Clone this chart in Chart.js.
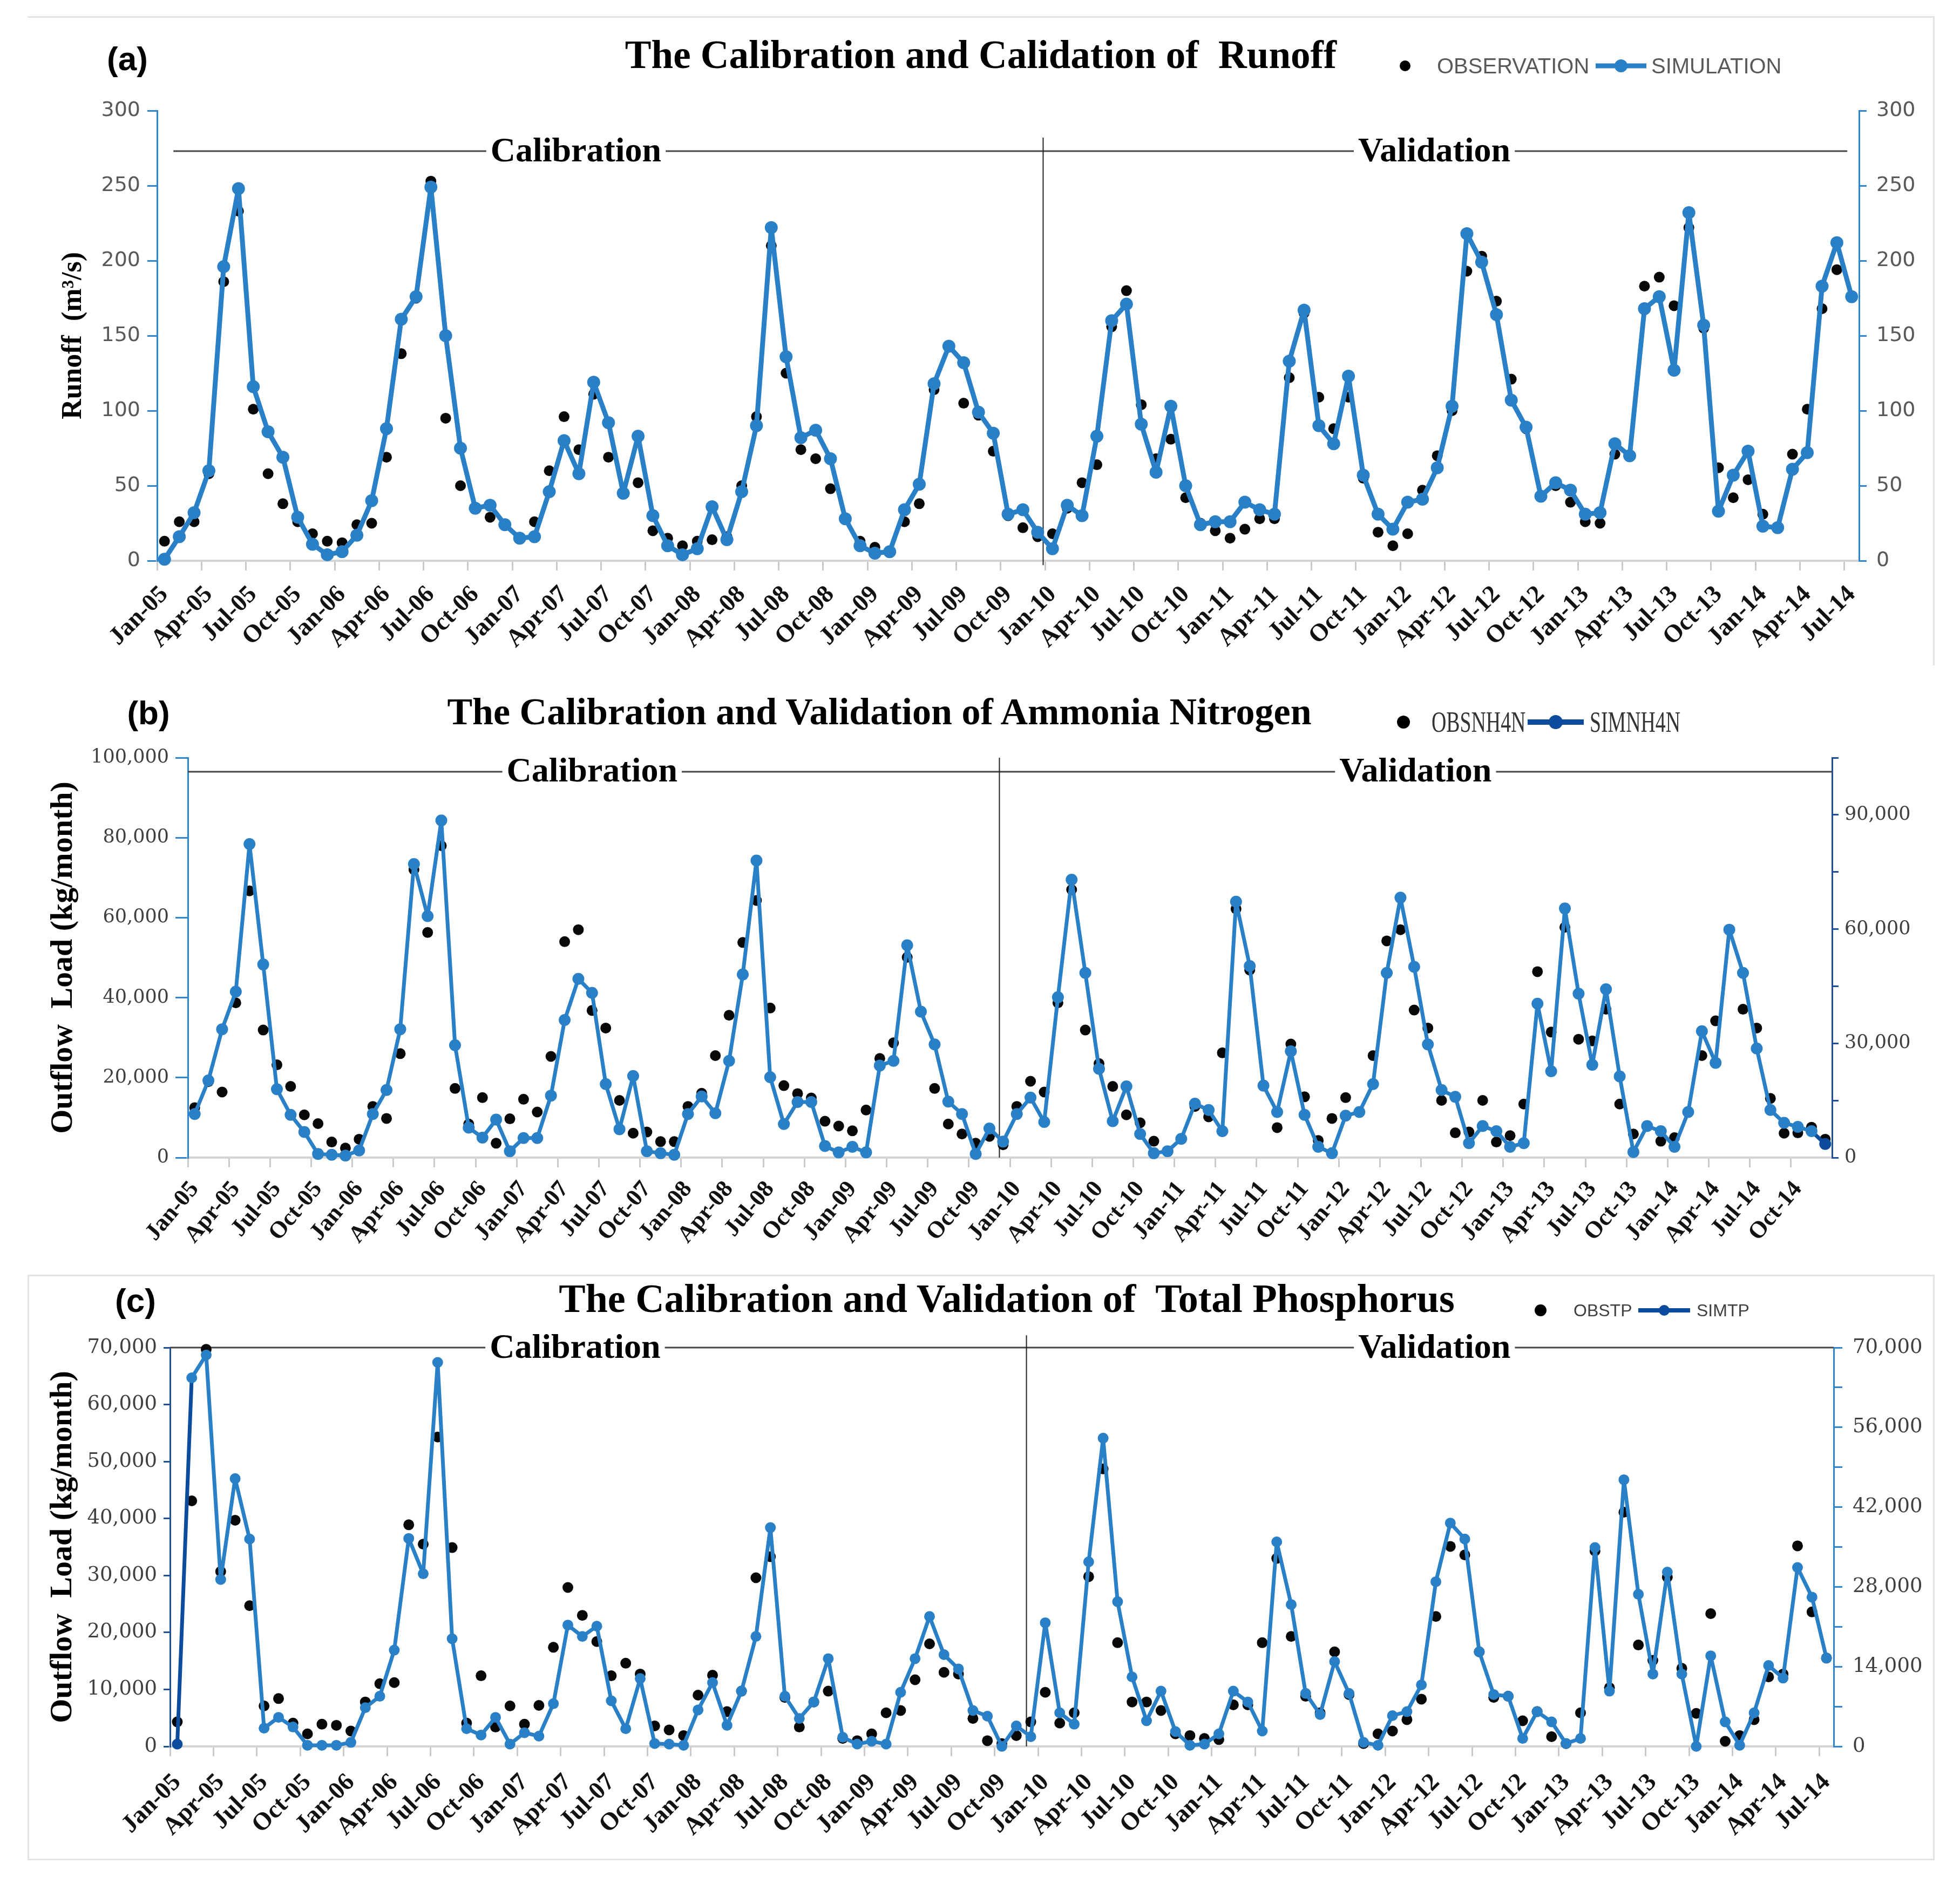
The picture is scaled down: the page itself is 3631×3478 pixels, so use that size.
<!DOCTYPE html>
<html>
<head>
<meta charset="utf-8">
<title>Calibration and Validation</title>
<script src="https://cdn.jsdelivr.net/npm/chart.js@4.4.1/dist/chart.umd.min.js"></script>
<style>
  html, body { margin: 0; padding: 0; background: #fff; }
  #page { position: relative; width: 3631px; height: 3478px; overflow: hidden; background: #fff; }
  #page canvas { position: absolute; left: 0; }
  .frame { position: absolute; border: 0 solid #e2e2e2; }
  .title { position: absolute; transform: translate(-50%, -50%); font-family: "Liberation Serif", serif; font-weight: bold; line-height: 1; white-space: pre; color: #000; }
  .tag { position: absolute; transform: translate(-50%, -50%); font-family: "Liberation Sans", sans-serif; font-weight: bold; font-size: 62px; line-height: 1; color: #000; }
  .lg-text { position: absolute; transform: translateY(-50%); transform-origin: left center; line-height: 1; white-space: nowrap; }
  .lg-dot { position: absolute; border-radius: 50%; transform: translate(-50%, -50%); }
  .lg-line { position: absolute; transform: translateY(-50%); }
</style>
</head>
<body>
<div id="page">
  <div class="frame" style="left:51px;top:30px;width:3530px;height:1200px;border-top-width:3px;border-right-width:3px;"></div>
  <div class="frame" style="left:51px;top:2362px;width:3527px;height:1079px;border-width:3px;"></div>

  <canvas id="runoffChart" width="3631" height="1230" style="top:0px;width:3631px;height:1230px;"></canvas>
  <canvas id="nh4Chart" width="3631" height="1110" style="top:1230px;width:3631px;height:1110px;"></canvas>
  <canvas id="tpChart" width="3631" height="1138" style="top:2340px;width:3631px;height:1138px;"></canvas>

  <div class="tag" style="left:236px;top:109px;">(a)</div>
  <div class="tag" style="left:275px;top:1321px;">(b)</div>
  <div class="tag" style="left:251px;top:2410px;">(c)</div>

  <div class="title" style="left:1817px;top:101px;font-size:73px;">The Calibration and Calidation of  Runoff</div>
  <div class="title" style="left:1629px;top:1319px;font-size:70px;">The Calibration and Validation of Ammonia Nitrogen</div>
  <div class="title" style="left:1865px;top:2406px;font-size:74px;">The Calibration and Validation of  Total Phosphorus</div>

  <!-- legend (a) -->
  <div class="lg-dot" style="left:2603px;top:122px;width:20px;height:20px;background:#000;"></div>
  <div class="lg-text" style="left:2662px;top:122px;font-family:'Liberation Sans',sans-serif;font-size:40px;color:#595959;">OBSERVATION</div>
  <div class="lg-line" style="left:2956px;top:122px;width:94px;height:9px;background:#2A80C6;"></div>
  <div class="lg-dot" style="left:3003px;top:122px;width:24px;height:24px;background:#2A80C6;"></div>
  <div class="lg-text" style="left:3059px;top:122px;font-family:'Liberation Sans',sans-serif;font-size:40px;color:#595959;">SIMULATION</div>

  <!-- legend (b) -->
  <div class="lg-dot" style="left:2600px;top:1338px;width:24px;height:24px;background:#000;"></div>
  <div class="lg-text" style="left:2652px;top:1338px;font-family:'Liberation Serif',serif;font-size:54px;color:#333;transform:translateY(-50%) scaleX(0.7);">OBSNH4N</div>
  <div class="lg-line" style="left:2830px;top:1338px;width:104px;height:10px;background:#0D4C9C;"></div>
  <div class="lg-dot" style="left:2882px;top:1338px;width:26px;height:26px;background:#0D4C9C;"></div>
  <div class="lg-text" style="left:2945px;top:1338px;font-family:'Liberation Serif',serif;font-size:54px;color:#333;transform:translateY(-50%) scaleX(0.7);">SIMNH4N</div>

  <!-- legend (c) -->
  <div class="lg-dot" style="left:2854px;top:2428px;width:22px;height:22px;background:#000;"></div>
  <div class="lg-text" style="left:2915px;top:2428px;font-family:'Liberation Sans',sans-serif;font-size:32px;color:#404040;">OBSTP</div>
  <div class="lg-line" style="left:3035px;top:2428px;width:96px;height:8px;background:#0D4C9C;"></div>
  <div class="lg-dot" style="left:3083px;top:2428px;width:20px;height:20px;background:#0D4C9C;"></div>
  <div class="lg-text" style="left:3143px;top:2428px;font-family:'Liberation Sans',sans-serif;font-size:32px;color:#404040;">SIMTP</div>
</div>

<script>
const BLUE = '#2A80C6';
const AXIS_BLUE = '#2E86D0';
const DARK_BLUE = '#0D4C9C';

// month categories Jan-05 .. Dec-14
const monthNames = ['Jan', 'Feb', 'Mar', 'Apr', 'May', 'Jun', 'Jul', 'Aug', 'Sep', 'Oct', 'Nov', 'Dec'];
const years = ['05', '06', '07', '08', '09', '10', '11', '12', '13', '14'];
const months = [];
years.forEach(y => monthNames.forEach(m => months.push(m + '-' + y)));

const runoffMonths = months.slice(0, 115);   // Jan-05 .. Jul-14
const nh4Months = months.slice(0, 120);      // Jan-05 .. Dec-14
const tpMonths = months.slice(0, 115);       // Jan-05 .. Jul-14

// (a) runoff, m3/s
const runoffObs = [
    13, 26, 26, 58, 186, 233, 101, 58, 38, 26, 18, 13,
    12, 24, 25, 69, 138, 175, 253, 95, 50, 35, 29, 24,
    15, 26, 60, 96, 74, 111, 69, 45, 52, 20, 15, 10,
    13, 14, 16, 50, 96, 210, 125, 74, 68, 48, 28, 13,
    9, 6, 26, 38, 114, 143, 105, 97, 73, 30, 22, 16,
    18, 35, 52, 64, 156, 180, 104, 68, 81, 42, 25, 20,
    15, 21, 28, 28, 122, 165, 109, 88, 109, 55, 19, 10,
    18, 47, 70, 100, 193, 203, 173, 121, 88, 43, 50, 39,
    26, 25, 71, 70, 183, 189, 170, 222, 155, 62, 42, 54,
    31, 22, 71, 101, 168, 194, 176
];
const runoffSim = [
    1, 16, 32, 60, 196, 248, 116, 86, 69, 29, 11, 4,
    6, 17, 40, 88, 161, 176, 249, 150, 75, 35, 37, 24,
    15, 16, 46, 80, 58, 119, 92, 45, 83, 30, 10, 4,
    8, 36, 14, 46, 90, 222, 136, 82, 87, 68, 28, 10,
    5, 6, 34, 51, 118, 143, 132, 99, 85, 31, 34, 19,
    8, 37, 30, 83, 160, 171, 91, 59, 103, 50, 24, 26,
    26, 39, 34, 31, 133, 167, 90, 78, 123, 57, 31, 21,
    39, 41, 62, 103, 218, 199, 164, 107, 89, 43, 52, 47,
    31, 32, 78, 70, 168, 176, 127, 232, 157, 33, 57, 73,
    23, 22, 61, 72, 183, 212, 176
];

// (b) ammonia nitrogen, kg/month
const nh4Obs = [
    12500, 19000, 16400, 38700, 66700, 31900, 23200, 17800, 10700, 8500, 3900, 2400,
    4600, 12800, 9800, 26000, 72000, 56300, 78000, 17300, 8400, 15000, 3600, 9700,
    14600, 11400, 25300, 54000, 57000, 36800, 32400, 14300, 6100, 6400, 4000, 4000,
    12800, 16100, 25500, 35600, 53800, 64300, 37400, 18000, 16000, 14900, 9100, 7900,
    6700, 11900, 24800, 28700, 50100, 36500, 17300, 8400, 5900, 3600, 5300, 3200,
    12800, 19100, 16400, 38700, 67000, 31900, 23500, 17800, 10700, 8700, 4100, 1600,
    4700, 12800, 10200, 26200, 62200, 46900, 18000, 7500, 28400, 15200, 4300, 9800,
    15000, 11400, 25500, 54200, 57000, 36900, 32400, 14300, 6200, 6400, 14300, 3900,
    5500, 13400, 46500, 31400, 57600, 29600, 29200, 37100, 13400, 5900, 7900, 4100,
    5000, 11400, 25500, 34200, 57000, 37100, 32400, 14800, 6100, 6200, 7600, 4600
];
const nh4Sim = [
    10900, 19300, 32100, 41500, 78400, 48300, 17100, 10700, 6400, 900, 700, 500,
    1800, 10900, 16900, 32100, 73400, 60400, 84300, 28100, 7500, 5000, 9500, 1600,
    4900, 4900, 15500, 34400, 44700, 41200, 18400, 7100, 20400, 1600, 1100, 700,
    10900, 15300, 11100, 24200, 45800, 74300, 20100, 8400, 13900, 13900, 2900, 1300,
    2700, 1300, 23000, 24200, 53100, 36500, 28300, 14000, 10900, 900, 7300, 4000,
    10900, 15000, 8900, 40100, 69500, 46200, 22200, 9100, 17800, 5900, 1100, 1600,
    4700, 13500, 11900, 6600, 64000, 47900, 18000, 11400, 26600, 10700, 2700, 1100,
    10500, 11400, 18400, 46200, 65000, 47700, 28300, 16900, 15200, 3600, 7900, 6600,
    2700, 3600, 38500, 21600, 62300, 41000, 23200, 42100, 20300, 1400, 7900, 6600,
    2700, 11400, 31600, 23700, 57000, 46200, 27300, 11900, 8700, 7700, 6600, 3400
];

// (c) total phosphorus, kg/month
const tpObs = [
    4300, 43100, 69700, 30700, 39700, 24700, 7100, 8400, 4100, 2200, 3900, 3700,
    2700, 7800, 11000, 11200, 38900, 35500, 54300, 34900, 4100, 12400, 3400, 7100,
    3900, 7200, 17400, 27900, 23000, 18400, 12400, 14600, 12700, 3600, 2900, 1900,
    9000, 12500, 6100, 9700, 29600, 33300, 8600, 3400, 7800, 9700, 1400, 1000,
    2200, 5900, 6300, 11700, 18000, 13000, 12700, 4900, 1000, 500, 1900, 4300,
    9500, 4100, 5900, 29800, 48700, 18200, 7800, 7800, 6300, 2200, 1900, 1400,
    1200, 7300, 7300, 18200, 33000, 19300, 8800, 5900, 16600, 9100, 500, 2200,
    2700, 4700, 8300, 22800, 35100, 33600, 16600, 8600, 8800, 4500, 6100, 1700,
    500, 5900, 34300, 10300, 41100, 17800, 15100, 29700, 13700, 5800, 23300, 900,
    1900, 4700, 12200, 12700, 35200, 23600, 15500
];
const tpSim = [
    400, 64700, 68700, 29300, 47000, 36400, 3200, 5100, 3400, 200, 200, 200,
    700, 6800, 8800, 16900, 36500, 30300, 67400, 18900, 3100, 2000, 5100, 400,
    2400, 1800, 7500, 21300, 19300, 21100, 8000, 3100, 11900, 500, 400, 200,
    6400, 11200, 3700, 9700, 19300, 38400, 8800, 4900, 7800, 15400, 1600, 400,
    900, 400, 9500, 15400, 22800, 16100, 13600, 6300, 5300, 0, 3600, 1700,
    21700, 5900, 3900, 32400, 54100, 25400, 12200, 4500, 9700, 2600, 200, 400,
    2200, 9700, 7800, 2700, 35900, 24900, 9300, 5600, 14900, 9300, 700, 200,
    5400, 6100, 10800, 28900, 39200, 36400, 16600, 9100, 8800, 1400, 6100, 4300,
    500, 1400, 34900, 9700, 46800, 26700, 12700, 30600, 12700, 0, 15900, 4300,
    200, 5900, 14200, 12000, 31400, 26200, 15500
];

// draws the Calibration / Validation split line and the labelled top line
const dividerPlugin = {
    id: 'divider',
    beforeDatasetsDraw(chart, args, opts) {
        const ctx = chart.ctx;
        const x = chart.scales.x;
        const y = chart.scales.y;
        const yLine = y.getPixelForValue(opts.lineValue);

        ctx.save();
        ctx.strokeStyle = '#444';
        ctx.lineWidth = 3;
        ctx.beginPath();
        ctx.moveTo(x.getPixelForValue(opts.lineFrom), yLine);
        ctx.lineTo(x.getPixelForValue(opts.lineTo), yLine);
        ctx.stroke();

        const xs = x.getPixelForValue(opts.splitAt);
        ctx.strokeStyle = '#222';
        ctx.lineWidth = 2;
        ctx.beginPath();
        ctx.moveTo(xs, y.getPixelForValue(opts.splitTop));
        ctx.lineTo(xs, y.getPixelForValue(opts.splitBottom));
        ctx.stroke();

        ctx.font = opts.font;
        ctx.textAlign = 'center';
        ctx.textBaseline = 'middle';
        opts.labels.forEach(l => {
            const px = x.getPixelForValue(l.at);
            const w = ctx.measureText(l.text).width;
            ctx.fillStyle = '#fff';
            ctx.fillRect(px - w / 2 - 8, yLine - 32, w + 16, 64);
            ctx.fillStyle = '#000';
            ctx.fillText(l.text, px, yLine + 2);
        });
        ctx.restore();
    }
};

function buildPanel(canvasId, p) {
    const ctx = document.getElementById(canvasId).getContext('2d');
    const serif = '"Liberation Serif", "Times New Roman", serif';

    return new Chart(ctx, {
        type: 'line',
        data: {
            labels: p.labels,
            datasets: [
                {
                    label: p.simName,
                    data: p.sim,
                    order: 1,
                    clip: false,
                    borderColor: BLUE,
                    borderWidth: p.lineWidth,
                    borderJoinStyle: 'round',
                    borderCapStyle: 'round',
                    tension: 0,
                    pointRadius: p.simRadius,
                    pointBorderWidth: 0,
                    pointBackgroundColor: c => (c.dataIndex === p.darkIndex ? DARK_BLUE : BLUE),
                    segment: {
                        borderColor: c => (p.darkSegment.includes(c.p1DataIndex) && p.darkSegment.includes(c.p0DataIndex) ? DARK_BLUE : undefined)
                    }
                },
                {
                    label: p.obsName,
                    data: p.obs,
                    order: 2,
                    clip: false,
                    showLine: false,
                    pointRadius: 10,
                    pointBorderWidth: 0,
                    pointBackgroundColor: '#080808'
                }
            ]
        },
        options: {
            responsive: false,
            animation: false,
            devicePixelRatio: 1,
            layout: { padding: { top: p.top, left: 0, right: 0, bottom: 0 } },
            plugins: {
                legend: { display: false },
                tooltip: { enabled: false },
                divider: p.divider
            },
            scales: {
                x: {
                    type: 'category',
                    offset: true,
                    grid: {
                        offset: true,
                        drawOnChartArea: false,
                        tickLength: 18,
                        lineWidth: 3,
                        color: c => (c.index % 3 === 0 ? '#c9c9c9' : 'rgba(0,0,0,0)')
                    },
                    border: { color: '#d4d4d4', width: 4 },
                    ticks: {
                        autoSkip: false,
                        minRotation: p.rotation,
                        maxRotation: p.rotation,
                        padding: p.xPad,
                        color: '#111',
                        font: { family: serif, size: p.xFont, weight: 'bold' },
                        callback: function(v, i) {
                            return i % 3 === 0 ? this.getLabelForValue(v) : '';
                        }
                    },
                    afterFit: s => { s.height = p.xHeight; }
                },
                y: {
                    position: 'left',
                    min: 0,
                    max: p.yMax,
                    grid: { drawOnChartArea: false, tickLength: p.yTick, lineWidth: 3, color: p.leftColor },
                    border: { color: p.leftColor, width: 3 },
                    ticks: {
                        stepSize: p.yStep,
                        padding: p.yPad,
                        color: p.tickColor,
                        font: p.tickFont,
                        callback: v => v.toLocaleString('en-US')
                    },
                    title: {
                        display: true,
                        text: p.yTitle,
                        color: '#000',
                        font: { family: serif, size: p.yTitleSize, weight: 'bold' },
                        padding: { top: p.yTitlePad, bottom: 0 }
                    },
                    afterFit: s => { s.width = p.leftWidth; }
                },
                y2: {
                    position: 'right',
                    min: 0,
                    max: p.y2Max,
                    grid: { drawOnChartArea: false, tickLength: p.y2Tick, lineWidth: 3, color: p.rightColor },
                    border: { color: p.rightColor, width: 3 },
                    ticks: {
                        stepSize: p.y2Step,
                        padding: p.y2Pad,
                        color: p.tickColor,
                        font: p.tickFont,
                        callback: v => (v % p.y2Label === 0 ? v.toLocaleString('en-US') : '')
                    },
                    afterFit: s => { s.width = p.rightWidth; }
                }
            }
        },
        plugins: [dividerPlugin]
    });
}

buildPanel('runoffChart', {
    labels: runoffMonths, obs: runoffObs, sim: runoffSim,
    obsName: 'OBSERVATION', simName: 'SIMULATION',
    lineWidth: 9, simRadius: 12, darkIndex: -1, darkSegment: [],
    top: 205, xHeight: 191, leftWidth: 291, rightWidth: 187,
    rotation: 45, xFont: 46, xPad: 18,
    yMax: 300, yStep: 50, yTick: 18, yPad: 13,
    y2Max: 300, y2Step: 50, y2Label: 50, y2Tick: 14, y2Pad: 18,
    leftColor: AXIS_BLUE, rightColor: AXIS_BLUE,
    tickColor: '#595959', tickFont: { family: '"DejaVu Sans", sans-serif', size: 38 },
    yTitle: 'Runoff  (m\u00b3/s)', yTitleSize: 52, yTitlePad: 105,
    divider: {
        lineValue: 273, lineFrom: 0.6, lineTo: 113.7,
        splitAt: 59.37, splitTop: 282, splitBottom: -3,
        font: 'bold 64px "Liberation Serif", serif',
        labels: [{ text: 'Calibration', at: 27.8 }, { text: 'Validation', at: 85.8 }]
    }
});

buildPanel('nh4Chart', {
    labels: nh4Months, obs: nh4Obs, sim: nh4Sim,
    obsName: 'OBSNH4N', simName: 'SIMNH4N',
    lineWidth: 7, simRadius: 11, darkIndex: 119, darkSegment: [118, 119],
    top: 174, xHeight: 195, leftWidth: 348, rightWidth: 237,
    rotation: 50, xFont: 44, xPad: 16,
    yMax: 100000, yStep: 20000, yTick: 23, yPad: 12,
    y2Max: 105000, y2Step: 15000, y2Label: 30000, y2Tick: 12, y2Pad: 11,
    leftColor: AXIS_BLUE, rightColor: '#1F4E9A',
    tickColor: '#404040', tickFont: { family: '"DejaVu Serif", serif', size: 35 },
    yTitle: 'Outflow  Load (kg/month)', yTitleSize: 58, yTitlePad: 83,
    divider: {
        lineValue: 96500, lineFrom: -0.5, lineTo: 119.5,
        splitAt: 58.73, splitTop: 100000, splitBottom: 0,
        font: 'bold 64px "Liberation Serif", serif',
        labels: [{ text: 'Calibration', at: 29.0 }, { text: 'Validation', at: 89.1 }]
    }
});

buildPanel('tpChart', {
    labels: tpMonths, obs: tpObs, sim: tpSim,
    obsName: 'OBSTP', simName: 'SIMTP',
    lineWidth: 7, simRadius: 10, darkIndex: 0, darkSegment: [0, 1],
    top: 157, xHeight: 242, leftWidth: 315, rightWidth: 234,
    rotation: 45, xFont: 46, xPad: 22,
    yMax: 70000, yStep: 10000, yTick: 12, yPad: 12,
    y2Max: 70000, y2Step: 7000, y2Label: 14000, y2Tick: 16, y2Pad: 19,
    leftColor: '#1F4E9A', rightColor: AXIS_BLUE,
    tickColor: '#404040', tickFont: { family: '"DejaVu Serif", serif', size: 37 },
    yTitle: 'Outflow  Load (kg/month)', yTitleSize: 58, yTitlePad: 82,
    divider: {
        lineValue: 70000, lineFrom: -0.5, lineTo: 114.5,
        splitAt: 58.7, splitTop: 72160, splitBottom: 0,
        font: 'bold 64px "Liberation Serif", serif',
        labels: [{ text: 'Calibration', at: 27.5 }, { text: 'Validation', at: 86.9 }]
    }
});
</script>
</body>
</html>
